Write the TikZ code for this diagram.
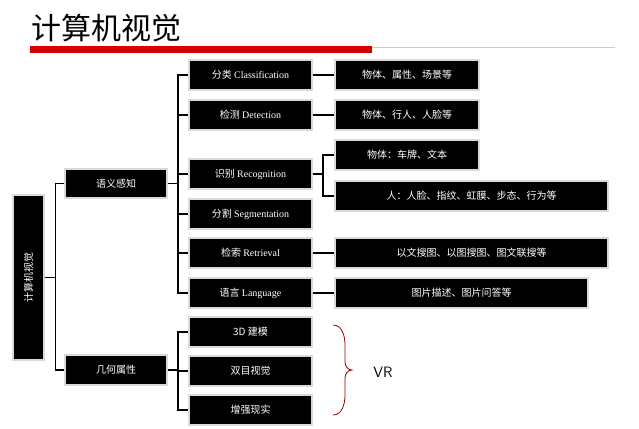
\documentclass[tikz,border=0pt]{standalone}
\usepackage{fontspec}
\setmainfont{Liberation Serif}
\newfontfamily\cjk{Noto Sans CJK SC}
\begin{document}
\begin{tikzpicture}[x=1pt,y=-1pt,
  bx/.style={draw=black!15,line width=1.2pt,fill=black,text=white,inner sep=0pt,font=\cjk\fontsize{10}{12}\selectfont},
  ln/.style={line width=1.3pt}]
\useasboundingbox (0,0) rectangle (639,428);
\fill[white] (0,0) rectangle (639,428);
\node[anchor=west,font=\cjk\fontsize{30}{34}\selectfont] (title) at (28,28) {计算机视觉};
\draw[black!20,line width=0.8pt] (30,47) -- (615,47);
\fill[red!85!black] (30,46) rectangle (372,53);
\newcommand\bb[6]{\node[bx,minimum width=#4-#2,minimum height=#5-#3] (#1) at ({(#2+#4)/2},{(#3+#5)/2}) {#6};}
\node[bx,minimum width=31,minimum height=165] (root) at (28.5,277.5) {\rotatebox{90}{计算机视觉}};
\bb{sem}{65}{169}{167}{198}{语义感知}
\bb{geo}{65}{355}{167}{385}{几何属性}
\bb{cls}{189}{60}{312}{90}{分类 {\rmfamily Classification}}
\bb{det}{189}{100}{312}{130}{检测 {\rmfamily Detection}}
\bb{rec}{189}{159}{312}{189}{识别 {\rmfamily Recognition}}
\bb{seg}{189}{199}{312}{229}{分割 {\rmfamily Segmentation}}
\bb{ret}{189}{238}{312}{268}{检索 {\rmfamily Retrieval}}
\bb{lan}{189}{278}{312}{308}{语言 {\rmfamily Language}}
\bb{c1}{335}{60}{479}{90}{物体、属性、场景等}
\bb{d1}{335}{100}{479}{130}{物体、行人、人脸等}
\bb{r1}{335}{140}{479}{170}{物体：车牌、文本}
\bb{r2}{335}{181}{608}{211}{人：人脸、指纹、虹膜、步态、行为等}
\bb{t1}{335}{238}{608}{268}{以文搜图、以图搜图、图文联搜等}
\bb{l1}{335}{278}{588}{308}{图片描述、图片问答等}
\bb{g1}{189}{317}{312}{347}{3D 建模}
\bb{g2}{189}{356}{312}{386}{双目视觉}
\bb{g3}{189}{395}{312}{425}{增强现实}
% connectors
\draw[ln] (root.east) -- +(11,0) coordinate (rt);
\draw[ln] (sem.west) -| (rt) |- (geo.west);
\draw[ln] (sem.east) -- (178,183.5) coordinate (st);
\foreach \n in {cls,det,rec,seg,ret,lan} \draw[ln] (st) |- (\n.west);
\draw[ln] (geo.east) -- (178,370) coordinate (gt);
\foreach \n in {g1,g2,g3} \draw[ln] (gt) |- (\n.west);
\draw[ln] (cls.east) -- (c1.west);
\draw[ln] (det.east) -- (d1.west);
\draw[ln] (ret.east) -- (t1.west);
\draw[ln] (lan.east) -- (l1.west);
\draw[ln] (rec.east) -- (323,174) coordinate (rr);
\draw[ln] (rr) |- (r1.west);
\draw[ln] (rr) |- (r2.west);
% VR brace
\coordinate (b1) at (333,325); \coordinate (b2) at (333,415);
\draw[red!60!black,line width=0.8pt] (b1) to[out=0,in=90] (345,345) -- (345,362) to[out=270,in=180] (352,370) to[out=180,in=90] (345,378) -- (345,395) to[out=270,in=0] (b2);
\node[font=\sffamily\fontsize{15}{18}\selectfont] (vr) at (383,372) {VR};
\end{tikzpicture}
\end{document}
